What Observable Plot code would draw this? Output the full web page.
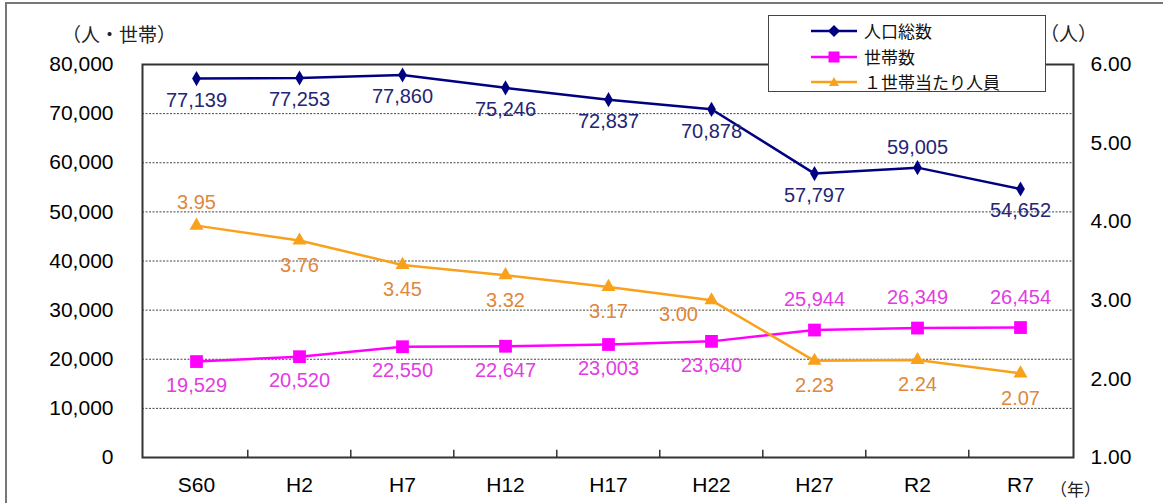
<!DOCTYPE html>
<html><head><meta charset="utf-8">
<script src="https://cdn.jsdelivr.net/npm/d3@7"></script>
<script src="https://cdn.jsdelivr.net/npm/@observablehq/plot@0.6"></script>
<style>
body{margin:0;background:#fff;}
#wrap{position:relative;width:1163px;height:503px;overflow:hidden;font-family:"Liberation Sans","Noto Sans CJK JP",sans-serif;background:#fff;}
#wrap > svg{position:absolute;left:0;top:0;}
#border{position:absolute;left:5px;top:2px;width:1300px;height:700px;border-left:2px solid #777;border-top:2px solid #777;}
.lbl{position:absolute;font-family:"Noto Sans CJK JP","Liberation Sans",sans-serif;color:#222;white-space:nowrap;line-height:1;}
#legend{position:absolute;left:768px;top:15px;width:276px;height:75px;border:1.5px solid #444;background:#fff;}
#legend .row{position:absolute;left:0;width:270px;height:20px;}
#legend .row svg{position:absolute;left:42px;top:0;}
#legend .row span{position:absolute;left:95px;top:1px;font-size:17px;font-family:"Noto Sans CJK JP",sans-serif;color:#111;line-height:18px;white-space:nowrap;}
</style></head>
<body>
<div id="wrap"></div>
<script>
// ---- data ----
const years = ["S60","H2","H7","H12","H17","H22","H27","R2","R7"];
const population = [77139,77253,77860,75246,72837,70878,57797,59005,54652];
const households = [19529,20520,22550,22647,23003,23640,25944,26349,26454];
const perHousehold = [3.95,3.76,3.45,3.32,3.17,3.00,2.23,2.24,2.07];
const leftTicks = [0,10000,20000,30000,40000,50000,60000,70000,80000];
const rightTicks = [1,2,3,4,5,6];
const seriesNames = ["人口総数","世帯数","１世帯当たり人員"];
// label placement (which labels sit above their marker)
const popLabelsAbove = ["R2"];
const hhLabelsAbove = ["H27","R2","R7"];
const ratioLabelsAbove = ["S60"];
const ratioLabelsLeft = ["H22"];

// ---- build ----
const rows = years.map((year,i)=>({year, pop:population[i], hh:households[i], ratio:perHousehold[i]}));
const R0 = 1, R1 = 6, Y1 = 80000;
const toLeft = r => (r - R0) / (R1 - R0) * Y1;
const fromLeft = v => v / Y1 * (R1 - R0) + R0;
const fmt = d3.format(",");

const W = 1163, H = 503, mL = 142, mR = 90, mT = 64, mB = 46;
const step = (W - mL - mR) / years.length;

const cPop = "#000080", cHh = "#ff00ff", cRat = "#f9a11b";
const tPop = "#252575", tHh = "#e23ce2", tRat = "#e0873c";
const font = 20;

const chart = Plot.plot({
  width: W, height: H,
  marginLeft: mL, marginRight: mR, marginTop: mT, marginBottom: mB,
  x: {type: "point", domain: years, padding: 0.5},
  y: {domain: [0, Y1]},
  style: {fontFamily: "'Liberation Sans', Arial, sans-serif", background: "transparent", color: "#000"},
  marks: [
    Plot.ruleY(leftTicks.filter(d => d > 0 && d < Y1), {stroke: "#444", strokeDasharray: "2,1.5", strokeWidth: 1}),
    Plot.frame({stroke: "#333", strokeWidth: 2}),
    Plot.axisY(leftTicks, {anchor: "left", tickSize: 0, tickPadding: 29, tickFormat: fmt, fontSize: 21, label: null}),
    Plot.axisY(rightTicks.map(toLeft), {anchor: "right", tickSize: 0, tickPadding: 17, tickFormat: d => fromLeft(d).toFixed(2), fontSize: 21, label: null}),
    Plot.axisX({anchor: "bottom", tickSize: 0, tickPadding: 20, fontSize: 21, label: null}),
    Plot.ruleX(years.slice(1), {x: d => d, dx: -step / 2, y1: 0, y2: 1500, stroke: "#333", strokeWidth: 1.5}),
    // population
    Plot.line(rows, {x: "year", y: "pop", stroke: cPop, strokeWidth: 2.5}),
    Plot.dot(rows, {x: "year", y: "pop", symbol: "diamond", fill: cPop, r: 4.6}),
    // households
    Plot.line(rows, {x: "year", y: "hh", stroke: cHh, strokeWidth: 2.5}),
    Plot.dot(rows, {x: "year", y: "hh", symbol: "square", fill: cHh, r: 7.2}),
    // persons per household (right axis)
    Plot.line(rows, {x: "year", y: d => toLeft(d.ratio), stroke: cRat, strokeWidth: 2.5}),
    Plot.dot(rows, {x: "year", y: d => toLeft(d.ratio), symbol: "triangle", fill: cRat, r: 5.2}),
    // labels
    Plot.text(rows, {filter: d => !popLabelsAbove.includes(d.year), x: "year", y: "pop", text: d => fmt(d.pop), dy: 22, fill: tPop, fontSize: font}),
    Plot.text(rows, {filter: d => popLabelsAbove.includes(d.year), x: "year", y: "pop", text: d => fmt(d.pop), dy: -20, fill: tPop, fontSize: font}),
    Plot.text(rows, {filter: d => !hhLabelsAbove.includes(d.year), x: "year", y: "hh", text: d => fmt(d.hh), dy: 24, fill: tHh, fontSize: font}),
    Plot.text(rows, {filter: d => hhLabelsAbove.includes(d.year), x: "year", y: "hh", text: d => fmt(d.hh), dy: -30, fill: tHh, fontSize: font}),
    Plot.text(rows, {filter: d => !ratioLabelsAbove.includes(d.year) && !ratioLabelsLeft.includes(d.year), x: "year", y: d => toLeft(d.ratio), text: d => d.ratio.toFixed(2), dy: 25, fill: tRat, fontSize: font}),
    Plot.text(rows, {filter: d => ratioLabelsAbove.includes(d.year), x: "year", y: d => toLeft(d.ratio), text: d => d.ratio.toFixed(2), dy: -23, fill: tRat, fontSize: font}),
    Plot.text(rows, {filter: d => ratioLabelsLeft.includes(d.year), x: "year", y: d => toLeft(d.ratio), text: d => d.ratio.toFixed(2), dx: -33, dy: 14, fill: tRat, fontSize: font})
  ]
});

const wrap = document.getElementById("wrap");
const border = document.createElement("div"); border.id = "border"; wrap.appendChild(border);
wrap.appendChild(chart);

function addLabel(text, left, top, size) {
  const s = document.createElement("div");
  s.className = "lbl"; s.textContent = text;
  s.style.left = left + "px"; s.style.top = top + "px"; s.style.fontSize = size + "px";
  wrap.appendChild(s);
}
addLabel("（人・世帯）", 62, 24, 19);
addLabel("（人）", 1040, 23, 19);
addLabel("（年）", 1050, 480, 17);

// legend
const legend = document.createElement("div"); legend.id = "legend";
const sym = [
  `<polygon points="23,4 29,10 23,16 17,10" fill="${cPop}"/>`,
  `<rect x="17.5" y="4.5" width="11" height="11" fill="${cHh}"/>`,
  `<polygon points="23,5 28,14 18,14" fill="${cRat}"/>`
];
const cols = [cPop, cHh, cRat];
const tops = [5, 31, 56];
seriesNames.forEach((name, i) => {
  const r = document.createElement("div"); r.className = "row"; r.style.top = tops[i] + "px";
  r.innerHTML = `<svg width="48" height="20"><line x1="0" x2="46" y1="10" y2="10" stroke="${cols[i]}" stroke-width="2.5"/>${sym[i]}</svg><span>${name}</span>`;
  legend.appendChild(r);
});
wrap.appendChild(legend);
</script>
</body></html>
